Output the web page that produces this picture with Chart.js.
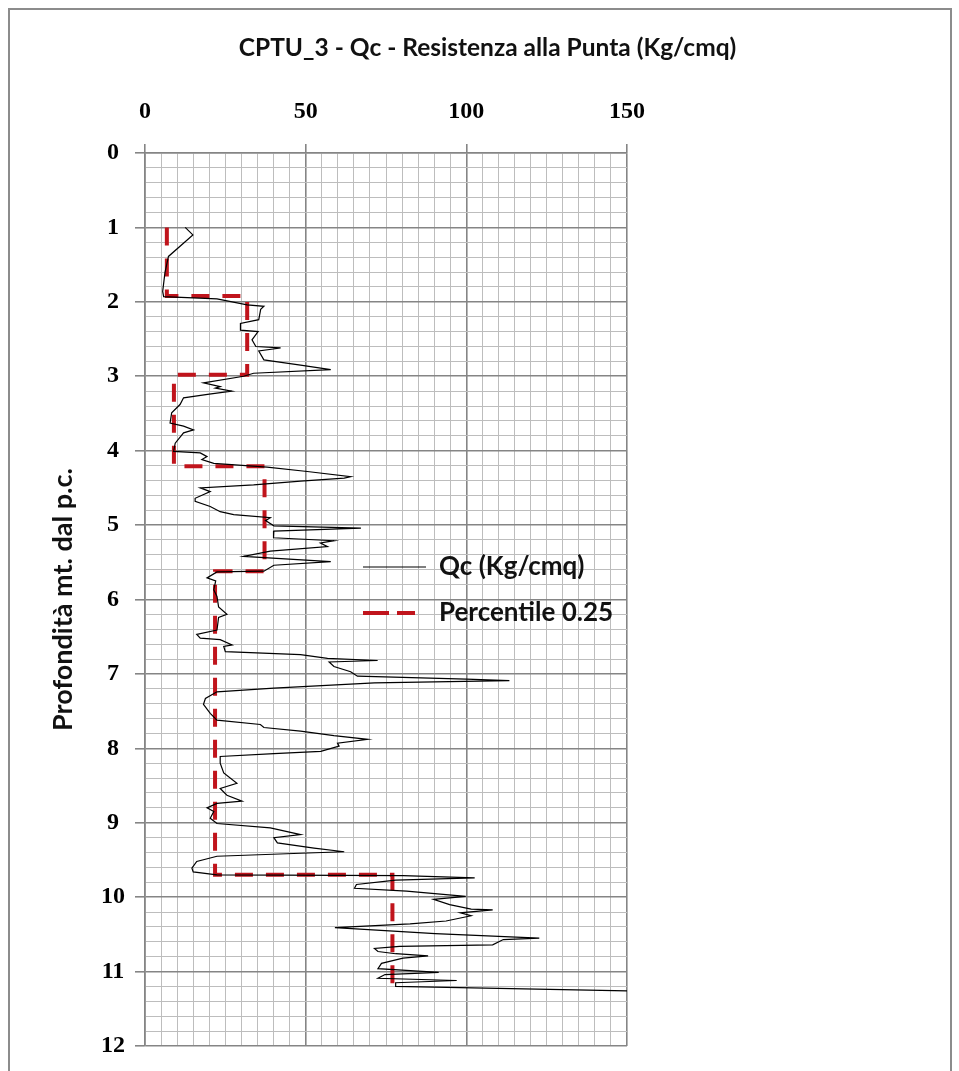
<!DOCTYPE html>
<html><head><meta charset="utf-8">
<script src="https://cdn.jsdelivr.net/npm/chart.js@4.4.1/dist/chart.umd.min.js"></script>
<style>
html,body{margin:0;padding:0;background:#fff;}
#wrap{position:relative;width:959px;height:1071px;overflow:hidden;background:#fff;}
#frame{position:absolute;left:8px;top:8px;width:940px;height:1100px;border:2px solid #8c8c8c;}
canvas{position:absolute;left:0;top:0;}
</style></head><body>
<div id="wrap"><div id="frame"></div><canvas id="c" width="959" height="1071"></canvas></div>
<script>
// Qc - depth (m) and cone resistance (Kg/cmq)
const qcDepth = [1.00,1.10,1.39,1.61,1.86,1.93,1.96,2.04,2.06,2.10,2.24,2.29,2.38,2.40,2.51,2.60,2.62,2.66,2.78,2.85,2.91,2.96,3.00,3.09,3.14,3.16,3.20,3.24,3.29,3.38,3.49,3.63,3.67,3.72,3.76,3.90,4.01,4.03,4.08,4.12,4.17,4.22,4.28,4.35,4.37,4.41,4.46,4.50,4.55,4.64,4.68,4.75,4.82,4.86,4.90,4.94,5.01,5.04,5.08,5.17,5.21,5.24,5.29,5.35,5.42,5.49,5.54,5.62,5.63,5.71,5.75,5.87,5.96,6.10,6.20,6.24,6.41,6.47,6.52,6.54,6.61,6.63,6.70,6.74,6.79,6.82,6.84,6.90,6.97,7.03,7.07,7.09,7.12,7.19,7.24,7.33,7.41,7.53,7.62,7.68,7.72,7.77,7.83,7.88,7.93,7.97,8.04,8.07,8.11,8.20,8.33,8.47,8.54,8.63,8.71,8.74,8.80,8.85,8.94,9.01,9.07,9.16,9.20,9.27,9.34,9.39,9.41,9.45,9.52,9.61,9.66,9.70,9.71,9.74,9.77,9.83,9.88,9.92,9.99,10.03,10.10,10.16,10.17,10.21,10.25,10.32,10.36,10.41,10.49,10.55,10.57,10.64,10.66,10.69,10.73,10.76,10.79,10.82,10.89,10.96,11.01,11.04,11.09,11.12,11.15,11.20,11.26];
const qcValue = [12.5,14.9,7.3,6.2,5.5,5.8,22.4,31.8,37.0,36.0,35.4,29.7,29.7,35.2,33.3,34.5,42.2,35.4,37.0,48.4,57.8,33.8,30.7,18.2,23.4,21.9,27.0,20.0,12.0,10.9,8.3,7.8,12.0,15.1,12.0,9.4,8.9,17.2,19.3,17.7,21.4,38.0,50.5,64.0,62.0,48.4,33.8,17.2,20.3,15.6,15.6,20.3,23.4,27.6,39.0,37.5,40.1,67.2,40.1,40.0,58.8,54.6,56.8,39.0,30.7,57.8,40.1,37.0,22.4,19.3,22.0,21.4,22.4,22.9,25.5,22.9,22.4,16.1,17.2,23.4,27.1,24.5,25.0,48.4,56.8,72.4,57.3,58.8,64.0,66.1,100.0,113.4,71.4,40.1,22.4,18.8,18.2,20.3,22.4,35.9,37.0,48.4,58.8,69.3,59.9,60.4,54.7,40.1,23.4,23.4,24.5,28.6,23.4,25.5,30.2,22.4,19.3,21.4,20.3,22.4,39.0,48.4,40.1,41.2,52.6,62.0,48.4,22.4,16.1,14.6,15.0,22.4,80.3,102.6,78.0,65.8,65.2,81.4,99.8,89.8,94.8,101.5,108.2,98.1,101.5,93.7,82.5,59.1,90.3,122.7,111.5,108.2,79.2,71.4,72.5,78.0,88.1,80.3,73.6,72.5,91.4,74.7,72.5,97.0,78.0,78.0,150.0];
// Percentile 0.25 step line
const p25Depth = [1.00,1.92,1.92,2.98,2.98,4.21,4.21,5.62,5.62,9.70,9.70,11.28];
const p25Value = [6.8,6.8,31.8,31.8,9.0,9.0,37.2,37.2,21.8,21.8,77.0,77.0];
// axis tick labels
const xMajorTicks = [0,50,100,150];
const yMajorTicks = [0,1,2,3,4,5,6,7,8,9,10,11,12];

const MAJOR = '#858585', MINOR = '#bdbdbd';
const isMajorX = v => xMajorTicks.some(t => Math.abs(t - v) < 1e-6);
const isMajorY = v => yMajorTicks.some(t => Math.abs(t - v) < 1e-6);

const qcPts = qcDepth.map((d, i) => ({x: qcValue[i], y: d}));
const p25Pts = p25Depth.map((d, i) => ({x: p25Value[i], y: d}));

const moveLegend = {
  id: 'moveLegend',
  afterLayout(chart) {
    const lg = chart.legend; if (!lg) return;
    const w = lg.width, h = lg.height;
    lg.left = 343; lg.top = 534; lg.right = lg.left + w; lg.bottom = lg.top + h;
  }
};

new Chart(document.getElementById('c'), {
  type: 'scatter',
  data: {
    datasets: [
      {label: 'Qc (Kg/cmq)', data: qcPts, showLine: true, borderColor: '#000', backgroundColor: '#000', borderWidth: 1.2, pointRadius: 0, tension: 0, yAxisID: 'y', xAxisID: 'x'},
      {label: 'Percentile 0.25', data: p25Pts, showLine: true, borderColor: '#c0141c', backgroundColor: '#c0141c', borderWidth: 4, borderDash: [18, 13], pointRadius: 0, tension: 0, yAxisID: 'y', xAxisID: 'x'}
    ]
  },
  options: {
    responsive: false, animation: false, devicePixelRatio: 1,
    layout: {padding: {left: 16, right: 0, top: 0, bottom: 25}},
    plugins: {
      title: {display: true, text: 'CPTU_3 - Qc - Resistenza alla Punta (Kg/cmq)', color: '#111',
        font: {family: 'Lato', size: 24.5, weight: 'bold'}, padding: {top: 33, bottom: 8}},
      legend: {position: 'chartArea', align: 'start',
        labels: {usePointStyle: true, pointStyle: 'line', pointStyleWidth: 63, textAlign: 'left',
          font: {family: 'Lato', size: 26, weight: 'bold'}, color: '#111', padding: 20,
          generateLabels: chart => {
            const items = Chart.defaults.plugins.legend.labels.generateLabels(chart);
            items.forEach(it => { if (it.datasetIndex === 1) it.lineDash = [26, 8, 18, 100]; });
            return items;
          }}},
      tooltip: {enabled: false}
    },
    scales: {
      x: {
        type: 'linear', position: 'top', min: 0, max: 150,
        afterBuildTicks: s => { s.ticks = Array.from({length: 31}, (_, i) => ({value: i * 5})); },
        afterFit: s => { s.height = 153 - (33 + 24.5 * 1.2 + 8); },
        ticks: {autoSkip: false, maxRotation: 0, padding: 18, color: '#000',
          font: {family: 'Liberation Serif', size: 24, weight: 'bold'},
          callback: v => isMajorX(v) ? String(v) : ''},
        grid: {drawTicks: true, tickLength: 9,
          color: c => (c.tick && isMajorX(c.tick.value)) ? MAJOR : MINOR,
          lineWidth: c => (c.tick && isMajorX(c.tick.value)) ? 1.6 : 1,
          tickColor: c => (c.tick && isMajorX(c.tick.value)) ? MAJOR : 'rgba(0,0,0,0)'},
        border: {display: true, color: MAJOR, width: 1.6}
      },
      y: {
        type: 'linear', position: 'left', reverse: true, min: 0, max: 12,
        afterBuildTicks: s => { s.ticks = Array.from({length: 61}, (_, i) => ({value: i / 5})); },
        afterFit: s => { s.width = 129; },
        title: {display: true, text: 'Profondità mt. dal p.c.', color: '#111',
          font: {family: 'Lato', size: 27, weight: 'bold'}, padding: {top: 31, bottom: 0}},
        ticks: {autoSkip: false, padding: 10, crossAlign: 'center', color: '#000',
          font: {family: 'Liberation Serif', size: 24, weight: 'bold'},
          callback: v => isMajorY(v) ? String(Math.round(v)) : ''},
        grid: {drawTicks: true, tickLength: 10,
          color: c => (c.tick && isMajorY(c.tick.value)) ? MAJOR : MINOR,
          lineWidth: c => (c.tick && isMajorY(c.tick.value)) ? 1.6 : 1,
          tickColor: c => (c.tick && isMajorY(c.tick.value)) ? MAJOR : 'rgba(0,0,0,0)'},
        border: {display: true, color: MAJOR, width: 1.6}
      },
      yR: {
        type: 'linear', position: 'right', display: true,
        afterFit: s => { s.width = 959 - 627; },
        ticks: {display: false}, grid: {display: false, drawTicks: false}, border: {display: false}
      }
    }
  },
  plugins: [moveLegend]
});
</script>
</body></html>
